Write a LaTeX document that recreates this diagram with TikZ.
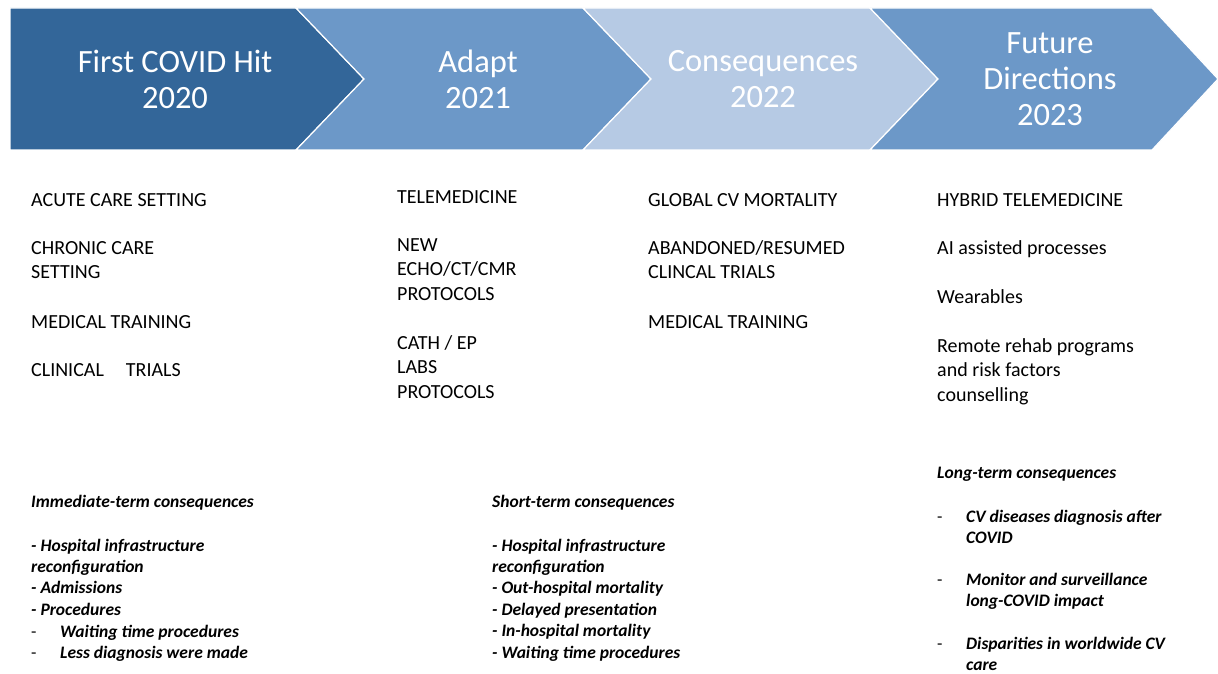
\documentclass[tikz,border=0pt]{standalone}
\usepackage{fontspec}
\setmainfont{Carlito}
\definecolor{stageA}{HTML}{336699}
\definecolor{stageB}{HTML}{6C98C8}
\definecolor{stageC}{HTML}{B6CAE4}
% stacked lines aligned on the baseline of the first line
\newcommand{\txtlines}[1]{\begin{tabular}[t]{@{}l@{}}#1\end{tabular}}
\begin{document}
\begin{tikzpicture}[x=1pt,y=-1pt,
  stage/.style={draw=white, line width=1.2pt, line join=miter},
  head/.style={text=white, align=center, inner sep=0pt, font=\fontsize{32.5}{36}\selectfont},
  item/.style={anchor=base west, inner sep=0pt, font=\fontsize{20}{24.7}\selectfont},
  note/.style={anchor=base west, inner sep=0pt, font=\fontsize{17.5}{21.4}\selectfont\bfseries\itshape},
  dashmark/.style={anchor=base west, inner sep=0pt, font=\fontsize{17.5}{21.4}\selectfont},
]
\useasboundingbox (0,0) rectangle (1218,674);
\fill[white] (0,0) rectangle (1218,674);

% chevron timeline
\filldraw[stage, fill=stageA] (10,8) -- (296,8) -- (364,79) -- (296,150) -- (10,150) -- cycle;
\filldraw[stage, fill=stageB] (296,8) -- (583,8) -- (651,79) -- (583,150) -- (296,150) -- (364,79) -- cycle;
\filldraw[stage, fill=stageC] (583,8) -- (870,8) -- (938,79) -- (870,150) -- (583,150) -- (651,79) -- cycle;
\filldraw[stage, fill=stageB] (870,8) -- (1152,8) -- (1218,79) -- (1152,150) -- (870,150) -- (938,79) -- cycle;

\node[head] (h1) at (175,79) {First COVID Hit\\2020};
\node[head] (h2) at (478,79) {Adapt\\2021};
\node[head] (h3) at (763,79) {Consequences\\2022};
\node[head] (h4) at (1050,79) {Future\\Directions\\2023};

% 2020 column
\node[item] (a1) at (31,206) {ACUTE CARE SETTING};
\node[item] (a2) at (31,254) {\txtlines{CHRONIC CARE\\SETTING}};
\node[item] (a3) at (31,328) {MEDICAL TRAINING};
\node[item] (a4) at (31,376) {CLINICAL\hspace{22pt}TRIALS};

% 2021 column
\node[item] (b1) at (397,203) {TELEMEDICINE};
\node[item] (b2) at (397,251) {\txtlines{NEW\\ECHO/CT/CMR\\PROTOCOLS}};
\node[item] (b3) at (397,349) {\txtlines{CATH / EP\\LABS\\PROTOCOLS}};

% 2022 column
\node[item] (c1) at (648,206) {GLOBAL CV MORTALITY};
\node[item] (c2) at (648,254) {\txtlines{ABANDONED/RESUMED\\CLINCAL TRIALS}};
\node[item] (c3) at (648,328) {MEDICAL TRAINING};

% 2023 column
\node[item] (d1) at (937,206) {HYBRID TELEMEDICINE};
\node[item] (d2) at (937,254) {AI assisted processes};
\node[item] (d3) at (937,303) {Wearables};
\node[item] (d4) at (937,352) {\txtlines{Remote rehab programs\\and risk factors\\counselling}};

% immediate-term consequences
\node[note] (n1) at (31,507) {Immediate-term consequences};
\node[note] (n1a) at (31,551) {\txtlines{- Hospital infrastructure\\reconfiguration\\- Admissions\\- Procedures}};
\node[dashmark] (n1d1) at (31,637) {-};
\node[note] (n1b) at (60,637) {Waiting time procedures};
\node[dashmark] (n1d2) at (31,658.5) {-};
\node[note] (n1c) at (60,658.5) {Less diagnosis were made};

% short-term consequences
\node[note] (n2) at (492,507) {Short-term consequences};
\node[note] (n2a) at (492,551) {\txtlines{- Hospital infrastructure\\reconfiguration\\- Out-hospital mortality\\- Delayed presentation\\- In-hospital mortality\\- Waiting time procedures}};

% long-term consequences
\node[note] (n3) at (937,478) {Long-term consequences};
\node[dashmark] (n3d1) at (937,522) {-};
\node[note] (n3a) at (966,522) {\txtlines{CV diseases diagnosis after\\COVID}};
\node[dashmark] (n3d2) at (937,585) {-};
\node[note] (n3b) at (966,585) {\txtlines{Monitor and surveillance\\long-COVID impact}};
\node[dashmark] (n3d3) at (937,649) {-};
\node[note] (n3c) at (966,649) {\txtlines{Disparities in worldwide CV\\care}};
\end{tikzpicture}
\end{document}
